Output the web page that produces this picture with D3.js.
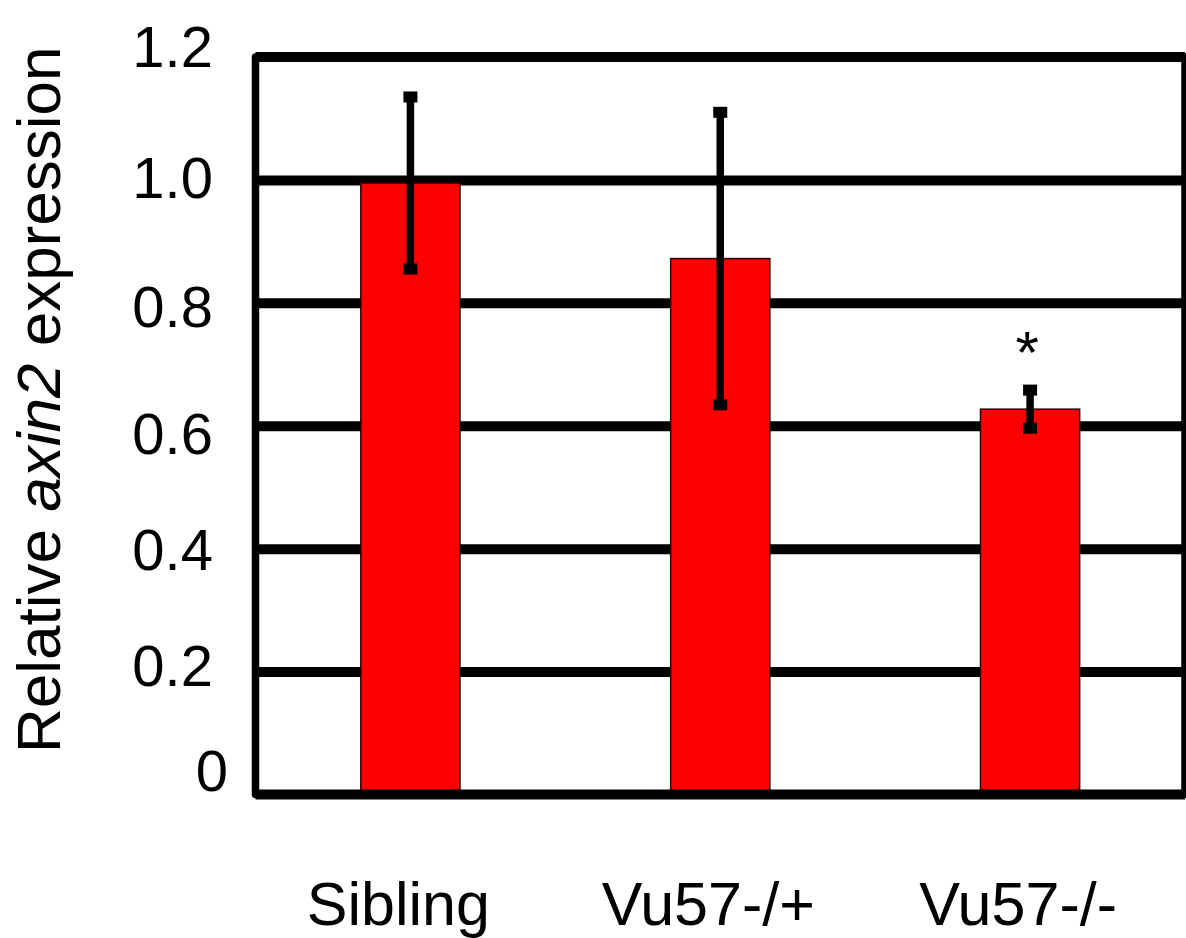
<!DOCTYPE html>
<html>
<head>
<meta charset="utf-8">
<script src="https://cdn.jsdelivr.net/npm/d3@7/dist/d3.min.js"></script>
<style>
  html, body { margin: 0; padding: 0; background: #ffffff; }
  svg { display: block; }
  text { font-family: "Liberation Sans", Arial, Helvetica, sans-serif; fill: #000; }
</style>
</head>
<body>
<svg id="chart" width="1186" height="938"></svg>
<script>
// ---- data ----
const categories = ["Sibling", "Vu57-/+", "Vu57-/-"];
const means = [0.995, 0.872, 0.627];
const errors = [0.14, 0.238, 0.031];
const significance = ["", "", "*"];
const yTicks = [0, 0.2, 0.4, 0.6, 0.8, 1.0, 1.2];
const yTickLabels = ["0", "0.2", "0.4", "0.6", "0.8", "1.0", "1.2"];

// ---- layout ----
const svg = d3.select("#chart");
const plot = { left: 255.5, right: 1185, top: 57, bottom: 794.5 };

const x = d3.scaleBand()
  .domain(categories)
  .range([plot.left, plot.right])
  .paddingInner(0.68)
  .paddingOuter(0.34);

const y = d3.scaleLinear()
  .domain([0, 1.2])
  .range([plot.bottom, plot.top]);

const rows = categories.map((c, i) => ({ c, m: means[i], e: errors[i], s: significance[i] }));

// ---- gridlines (under bars) ----
const gridAxis = d3.axisLeft(y)
  .tickValues(yTicks.filter(t => t > 0 && t < 1.2))
  .tickSize(-(plot.right - plot.left))
  .tickFormat("");
const gridG = svg.append("g")
  .attr("transform", `translate(${plot.left},0)`)
  .call(gridAxis);
gridG.select(".domain").remove();
gridG.selectAll(".tick line")
  .attr("stroke", "#000")
  .attr("stroke-width", 10);

// ---- bars ----
svg.append("g").selectAll("rect")
  .data(rows)
  .join("rect")
  .attr("x", d => x(d.c))
  .attr("width", x.bandwidth())
  .attr("y", d => y(d.m))
  .attr("height", d => y(0) - y(d.m))
  .attr("fill", "#ff0000")
  .attr("stroke", "#2a0000")
  .attr("stroke-width", 1.5);

// ---- frame: top line (1.2), bottom axis (0), left and right sides ----
const frame = d3.path();
frame.moveTo(plot.left, y(1.2));
frame.lineTo(plot.right, y(1.2));
svg.append("path").attr("d", frame.toString())
  .attr("stroke", "#000").attr("stroke-width", 10).attr("fill", "none");
const base = d3.path();
base.moveTo(plot.left, y(0));
base.lineTo(plot.right, y(0));
svg.append("path").attr("d", base.toString())
  .attr("stroke", "#000").attr("stroke-width", 10).attr("fill", "none");
[plot.left, plot.right].forEach(px => {
  svg.append("line")
    .attr("x1", px).attr("x2", px)
    .attr("y1", y(1.2)).attr("y2", y(0))
    .attr("stroke", "#000").attr("stroke-width", 7.5)
    .attr("stroke-linecap", "round");
});

// ---- error bars ----
const capW = 14, capH = 11;
const eg = svg.append("g").selectAll("g")
  .data(rows)
  .join("g");
eg.append("line")
  .attr("x1", d => x(d.c) + x.bandwidth() / 2)
  .attr("x2", d => x(d.c) + x.bandwidth() / 2)
  .attr("y1", d => y(d.m + d.e))
  .attr("y2", d => y(d.m - d.e))
  .attr("stroke", "#000")
  .attr("stroke-width", 7.5);
eg.selectAll("rect")
  .data(d => [d.m + d.e, d.m - d.e].map(v => ({ c: d.c, v })))
  .join("rect")
  .attr("x", d => x(d.c) + x.bandwidth() / 2 - capW / 2)
  .attr("y", d => y(d.v) - capH / 2)
  .attr("width", capW)
  .attr("height", capH)
  .attr("fill", "#000");

// ---- significance marks ----
svg.append("g").selectAll("text")
  .data(rows.filter(d => d.s))
  .join("text")
  .attr("x", d => x(d.c) + x.bandwidth() / 2 - 3)
  .attr("y", d => y(d.m + d.e) - 17)
  .attr("text-anchor", "middle")
  .attr("font-size", 60)
  .text(d => d.s);

// ---- y tick labels ----
const labelNudge = { 0: -24, 0.2: -6, 0.4: 1, 0.6: 7.5, 0.8: 3.4, 1.0: -2.4, 1.2: -11 };
svg.append("g").selectAll("text")
  .data(yTicks)
  .join("text")
  .attr("x", d => d === 0 ? 228 : 213)
  .attr("y", d => y(d) + labelNudge[d] + 20.8)
  .attr("text-anchor", "end")
  .attr("font-size", 58)
  .text((d, i) => yTickLabels[i]);

// ---- x category labels ----
svg.append("g").selectAll("text")
  .data(categories)
  .join("text")
  .attr("x", d => x(d) + x.bandwidth() / 2 - 12)
  .attr("y", 925)
  .attr("text-anchor", "middle")
  .attr("font-size", 61)
  .text(d => d);

// ---- y axis title ----
const title = svg.append("text")
  .attr("transform", "translate(60,399.7) rotate(-90)")
  .attr("text-anchor", "middle")
  .attr("font-size", 62);
title.append("tspan").text("Relative ");
title.append("tspan").attr("font-style", "italic").text("axin2");
title.append("tspan").text(" expression");
</script>
</body>
</html>
